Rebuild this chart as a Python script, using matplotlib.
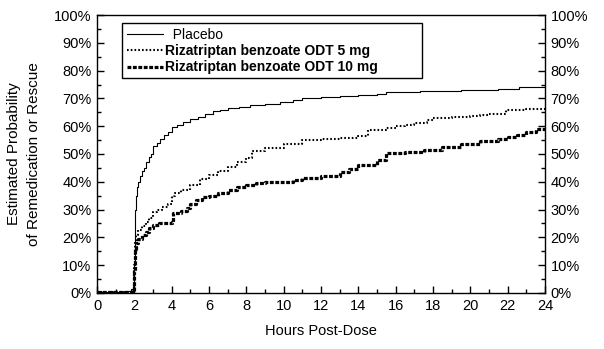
import numpy as np
import matplotlib
matplotlib.use('Agg')
import matplotlib.pyplot as plt
from matplotlib.patches import Rectangle
from matplotlib.ticker import MultipleLocator, FuncFormatter

plt.rcParams['font.family'] = ['Liberation Sans', 'DejaVu Sans']

# Kaplan-Meier style step data (hours, % remedicated)
placebo_t = [0, 1.5, 1.8, 1.95, 2.0, 2.03, 2.06, 2.1, 2.15, 2.2, 2.3, 2.4, 2.5, 2.6, 2.8, 2.9,
             3.0, 3.2, 3.4, 3.6, 3.8, 4.0, 4.3, 4.6, 5.0, 5.4, 5.8, 6.2, 6.6, 7.0, 7.6, 8.2,
             9.0, 9.8, 10.5, 11.0, 12.0, 13.0, 14.0, 15.0, 15.5, 16.5, 17.3, 18.5, 19.5,
             20.5, 21.5, 22.6, 24]
placebo_p = [0.5, 0.7, 1.5, 2, 10, 22, 30, 35, 38, 40, 42, 44, 45, 47, 49, 50,
             53, 54, 55.5, 57, 58, 59.8, 60.5, 61.5, 62.5, 63.4, 64.5, 65.5, 66, 66.5, 67, 67.5,
             68, 68.8, 69.3, 70, 70.5, 70.8, 71.2, 71.6, 72.2, 72.4, 72.7, 72.8, 73,
             73.2, 73.5, 74.2, 74.2]

odt5_t = [0, 1.9, 2.0, 2.02, 2.05, 2.1, 2.2, 2.4, 2.6, 2.8, 3.0, 3.2, 3.5, 3.8, 4.0, 4.2,
          4.5, 5.0, 5.5, 6.0, 6.5, 7.0, 7.5, 8.0, 8.3, 9.0, 10.0, 11.0, 12.0, 13.0, 14.0,
          14.5, 15.0, 15.5, 16.0, 16.5, 17.0, 17.7, 18.0, 19.0, 20.0, 20.5, 21.0, 21.9, 23.0, 24]
odt5_p = [0.5, 1, 10, 15, 18.5, 21, 22.7, 24, 25.5, 27, 29, 30, 31, 32, 35, 36,
          37, 39, 41, 42.5, 44, 45.5, 47, 48.5, 51, 52, 53.5, 55, 55.3, 55.8, 56.5,
          58.5, 58.8, 59.3, 60, 60.5, 61, 62.2, 63, 63.3, 63.8, 64, 64.3, 66, 66.2, 66.7]

odt10_t = [0, 1.9, 2.0, 2.02, 2.05, 2.1, 2.2, 2.4, 2.6, 2.8, 3.0, 3.3, 3.6, 4.0, 4.05, 4.5,
           4.8, 5.0, 5.3, 5.6, 6.0, 6.5, 7.0, 7.5, 8.0, 8.5, 9.0, 10.0, 10.5, 11.0, 12.0,
           13.0, 13.5, 14.0, 15.0, 15.5, 16.5, 17.5, 18.5, 19.5, 20.5, 21.5, 22.0, 22.5,
           23.0, 23.5, 24]
odt10_p = [0.3, 0.5, 8, 13, 16, 18, 19.5, 21, 22, 23.5, 24.5, 25, 25.3, 25.6, 28.8, 29.5,
           30.5, 32, 33.5, 34.5, 35, 36, 37, 38, 39, 39.5, 39.8, 40, 40.5, 41.4, 42,
           43.5, 44.5, 46, 48, 50.3, 50.8, 51.5, 52.5, 53.5, 54.5, 55.5, 56, 57,
           58, 59, 60]

labels = ['  Placebo', 'Rizatriptan benzoate ODT 5 mg', 'Rizatriptan benzoate ODT 10 mg']

fig = plt.figure(figsize=(6.04, 3.49), dpi=100)
ax = fig.add_axes([0.1606, 0.1605, 0.7417, 0.7965])

ax.plot(placebo_t, placebo_p, drawstyle='steps-post', color='black', lw=0.8, label=labels[0])
ax.plot(odt5_t, odt5_p, drawstyle='steps-post', color='black', lw=1.5,
        linestyle=(0, (0.8, 1.0)), label=labels[1])
ax.plot(odt10_t, odt10_p, drawstyle='steps-post', color='black', lw=2.3,
        linestyle=(0, (1.2, 0.5)), label=labels[2])

ax.set_xlim(0, 24)
ax.set_ylim(0, 100)
ax.xaxis.set_major_locator(MultipleLocator(2))
ax.xaxis.set_minor_locator(MultipleLocator(1))
ax.yaxis.set_major_locator(MultipleLocator(10))
ax.yaxis.set_minor_locator(MultipleLocator(5))
ax.yaxis.set_major_formatter(FuncFormatter(lambda v, pos: f'{int(v)}%'))

ax.tick_params(which='both', direction='in', right=True, labelright=True, top=False,
               labelsize=10.5, width=1.0, pad=4)
ax.tick_params(which='major', length=5)
ax.tick_params(which='minor', length=3)
for s in ax.spines.values():
    s.set_linewidth(1.0)

ax.set_xlabel('Hours Post-Dose', fontsize=10.5, labelpad=8)
ax.set_ylabel('Estimated Probability\nof Remedication or Rescue', fontsize=11,
              labelpad=9, linespacing=1.6)

# legend frame is wider than its text in the original, so draw it separately
ax.add_patch(Rectangle((0.0551, 0.772), 0.670, 0.198, transform=ax.transAxes,
                       facecolor='white', edgecolor='black', lw=1.0, zorder=4))
leg = ax.legend(loc='upper left', bbox_to_anchor=(0.0551, 0.970), borderaxespad=0,
                fontsize=10, handlelength=2.6, handletextpad=0.2, labelspacing=0.15,
                borderpad=0.35, frameon=False)
leg.set_zorder(5)
for i, t in enumerate(leg.get_texts()):
    if i > 0:
        t.set_fontweight('bold')

fig.savefig('out.png', dpi=100)
